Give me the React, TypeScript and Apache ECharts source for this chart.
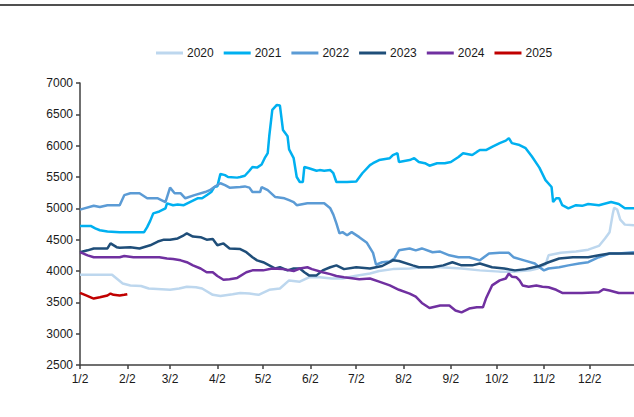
import React, { useEffect, useRef } from "react";
import * as echarts from "echarts";

const seriesNames = ["2020", "2021", "2022", "2023", "2024", "2025"];
const seriesColors = ["#BDD7EE", "#00B0F0", "#5B9BD5", "#1F4E79", "#7030A0", "#C00000"];

const yTicks = { min: 2500, max: 7000, interval: 500 };

// category axis: every day from 1/2 to 12/31; labels shown on the 2nd of each month
const monthDays = [31, 28, 31, 30, 31, 30, 31, 31, 30, 31, 30, 31];
const categories: string[] = [];
monthDays.forEach((n, m) => {
  for (let d = 1; d <= n; d++) {
    if (m === 0 && d === 1) continue;
    categories.push(`${m + 1}/${d}`);
  }
});

// [day index from 1/2, price]
const data2020: [number, number][] = [
  [0, 3940], [21, 3940], [28, 3800], [33, 3770], [40, 3760], [45, 3720], [59, 3700], [65, 3720], [70, 3750],
  [76, 3740], [80, 3720], [87, 3620], [92, 3600], [100, 3630], [105, 3650], [111, 3640], [117, 3620],
  [124, 3700], [131, 3720], [137, 3850], [144, 3830], [150, 3900], [157, 3900], [165, 3880], [172, 3880],
  [180, 3920], [190, 3960], [196, 4000], [205, 4030], [216, 4040], [225, 4060], [236, 4060], [250, 4040],
  [262, 4010], [275, 3990], [285, 3990], [295, 4010], [300, 4040], [305, 4100], [307, 4250], [315, 4290],
  [325, 4310], [333, 4340], [340, 4400], [344, 4520], [347, 4620], [349, 4900], [350, 5010], [352, 4980],
  [354, 4820], [357, 4740], [363, 4730],
];
const data2021: [number, number][] = [
  [0, 4720], [7, 4720], [10, 4680], [13, 4650], [18, 4630], [26, 4620], [35, 4620], [42, 4620], [44, 4700],
  [46, 4800], [48, 4920], [52, 4950], [56, 5000], [57, 5080], [61, 5050], [64, 5060], [68, 5050], [72, 5100],
  [77, 5160], [80, 5160], [83, 5210], [86, 5260], [88, 5340], [90, 5350], [92, 5550], [95, 5530], [97, 5500],
  [103, 5490], [105, 5500], [108, 5520], [111, 5600], [113, 5660], [116, 5650], [119, 5700], [121, 5800],
  [123, 5880], [124, 6150], [126, 6570], [129, 6650], [131, 6640], [133, 6250], [136, 6150], [137, 5940],
  [140, 5800], [142, 5500], [144, 5420], [146, 5420], [147, 5660], [150, 5640], [155, 5600], [157, 5610],
  [160, 5600], [164, 5610], [166, 5560], [168, 5420], [175, 5420], [181, 5430], [185, 5560], [190, 5690],
  [192, 5720], [196, 5770], [203, 5800], [205, 5850], [208, 5880], [209, 5740], [216, 5770], [219, 5800],
  [222, 5740], [226, 5720], [229, 5680], [234, 5720], [239, 5720], [243, 5740], [248, 5820], [251, 5880],
  [257, 5850], [260, 5900], [262, 5930], [266, 5930], [270, 5980], [275, 6040], [279, 6080], [281, 6120],
  [283, 6040], [288, 6010], [292, 5960], [296, 5830], [301, 5650], [305, 5450], [309, 5340], [310, 5100],
  [312, 5160], [314, 5160], [316, 5050], [320, 5000], [325, 5050], [329, 5040], [333, 5070], [340, 5050],
  [348, 5100], [353, 5070], [357, 5000], [363, 5000],
];
const data2022: [number, number][] = [
  [0, 4980], [9, 5040], [13, 5020], [18, 5050], [26, 5050], [29, 5210], [33, 5240], [39, 5240], [44, 5160],
  [51, 5160], [56, 5100], [59, 5330], [62, 5240], [66, 5240], [69, 5160], [75, 5210], [82, 5260], [85, 5290],
  [88, 5340], [92, 5400], [95, 5370], [98, 5330], [105, 5340], [108, 5350], [111, 5330], [113, 5260],
  [118, 5260], [119, 5340], [123, 5290], [128, 5180], [134, 5160], [137, 5130], [140, 5100], [142, 5050],
  [149, 5080], [152, 5080], [157, 5080], [160, 5080], [164, 5000], [166, 4900], [168, 4760], [170, 4600],
  [172, 4620], [175, 4570], [178, 4620], [183, 4540], [188, 4450], [192, 4290], [194, 4100], [198, 4140],
  [203, 4150], [206, 4200], [209, 4330], [216, 4360], [220, 4330], [224, 4360], [231, 4300], [236, 4310],
  [242, 4250], [248, 4220], [255, 4220], [262, 4170], [268, 4280], [275, 4290], [281, 4290], [284, 4220],
  [291, 4170], [298, 4120], [301, 4060], [304, 4010], [307, 4040], [314, 4060], [320, 4090], [327, 4120],
  [333, 4140], [340, 4220], [347, 4280], [353, 4280], [363, 4300],
];
const data2023: [number, number][] = [
  [0, 4300], [5, 4330], [9, 4360], [18, 4360], [20, 4440], [24, 4380], [26, 4370], [33, 4380], [39, 4360],
  [46, 4410], [51, 4470], [55, 4500], [59, 4500], [64, 4520], [68, 4570], [70, 4600], [74, 4550], [79, 4540],
  [83, 4500], [87, 4510], [90, 4410], [94, 4440], [98, 4360], [105, 4350], [109, 4300], [113, 4220],
  [116, 4170], [120, 4140], [124, 4090], [128, 4040], [131, 4060], [136, 4010], [140, 4040], [144, 4040],
  [147, 3980], [150, 3930], [155, 3930], [159, 4010], [164, 4060], [168, 4090], [173, 4030], [181, 4060],
  [190, 4040], [198, 4080], [205, 4170], [209, 4160], [218, 4090], [222, 4060], [231, 4060], [238, 4090],
  [244, 4140], [250, 4090], [257, 4090], [262, 4120], [270, 4060], [278, 4040], [285, 4010], [292, 4030],
  [301, 4080], [307, 4140], [314, 4200], [323, 4220], [333, 4220], [340, 4250], [347, 4280], [353, 4280],
  [363, 4280],
];
const data2024: [number, number][] = [
  [0, 4300], [5, 4250], [9, 4220], [26, 4220], [29, 4240], [35, 4220], [52, 4220], [57, 4200], [61, 4190],
  [66, 4170], [70, 4140], [74, 4090], [79, 4040], [83, 3980], [87, 3980], [90, 3920], [94, 3860], [98, 3870],
  [103, 3890], [109, 3980], [113, 4010], [120, 4010], [126, 4040], [133, 4030], [140, 4000], [144, 4040],
  [149, 4060], [152, 4030], [159, 3980], [164, 3950], [168, 3920], [173, 3900], [177, 3890], [183, 3870],
  [190, 3880], [196, 3830], [203, 3770], [209, 3700], [216, 3640], [220, 3590], [224, 3490], [229, 3410],
  [236, 3450], [242, 3450], [246, 3370], [250, 3340], [255, 3400], [260, 3420], [264, 3420], [266, 3560],
  [270, 3770], [275, 3850], [279, 3880], [281, 3960], [283, 3910], [286, 3900], [288, 3850], [290, 3770],
  [294, 3750], [299, 3770], [303, 3750], [307, 3740], [312, 3700], [316, 3650], [329, 3650], [340, 3660],
  [343, 3710], [347, 3690], [353, 3650], [363, 3650],
];
const data2025: [number, number][] = [
  [0, 3650], [4, 3610], [7, 3580], [9, 3560], [13, 3580], [18, 3610], [20, 3640], [22, 3620], [26, 3610],
  [29, 3620], [31, 3630],
];

const allData = [data2020, data2021, data2022, data2023, data2024, data2025];

const FONT = "'Liberation Sans', Arial, sans-serif";
const AXIS_COLOR = "#404040";

export default function App() {
  const ref = useRef<HTMLDivElement>(null);
  useEffect(() => {
    if (!ref.current) return;
    const chart = echarts.init(ref.current, null, { renderer: "svg" });
    const isLabelDay = (i: number) => categories[i] !== undefined && categories[i].split("/")[1] === "2";
    chart.setOption({
      animation: false,
      textStyle: { fontFamily: FONT },
      graphic: [
        {
          type: "line",
          shape: { x1: 0, y1: 5, x2: 634, y2: 5 },
          style: { stroke: "#505050", lineWidth: 2 },
        },
      ],
      legend: {
        left: 151,
        top: 42,
        icon: "rect",
        itemWidth: 27,
        itemHeight: 3,
        itemGap: 10,
        textStyle: { fontSize: 12, color: "#1a1a1a", fontFamily: FONT, padding: [0, 0, 0, -1] },
        data: seriesNames,
      },
      grid: { left: 80, right: 0, top: 83, bottom: 52, containLabel: false },
      xAxis: {
        type: "category",
        data: categories,
        boundaryGap: false,
        axisLine: { lineStyle: { color: AXIS_COLOR, width: 1.5 } },
        axisTick: {
          interval: (i: number) => isLabelDay(i),
          length: 4,
          lineStyle: { color: AXIS_COLOR, width: 1.5 },
        },
        axisLabel: {
          interval: (i: number) => isLabelDay(i),
          color: "#1a1a1a",
          fontSize: 12,
          margin: 8,
          fontFamily: FONT,
        },
        splitLine: { show: false },
      },
      yAxis: {
        type: "value",
        min: yTicks.min,
        max: yTicks.max,
        interval: yTicks.interval,
        axisLine: { show: true, lineStyle: { color: AXIS_COLOR, width: 1.5 } },
        axisTick: { show: true, length: 4, lineStyle: { color: AXIS_COLOR, width: 1.5 } },
        axisLabel: {
          color: "#1a1a1a",
          fontSize: 12,
          margin: 7,
          fontFamily: FONT,
          formatter: (v: number) => String(v),
        },
        splitLine: { show: false },
      },
      series: seriesNames.map((name, i) => ({
        name,
        type: "line",
        data: allData[i],
        symbol: "none",
        showSymbol: false,
        lineStyle: { color: seriesColors[i], width: 2.5 },
        itemStyle: { color: seriesColors[i] },
        z: 2 + i,
      })),
    });
    return () => chart.dispose();
  }, []);
  return (
    <div
      ref={ref}
      style={{ position: "fixed", left: 0, top: 0, width: 634, height: 417, background: "#fff" }}
    />
  );
}
